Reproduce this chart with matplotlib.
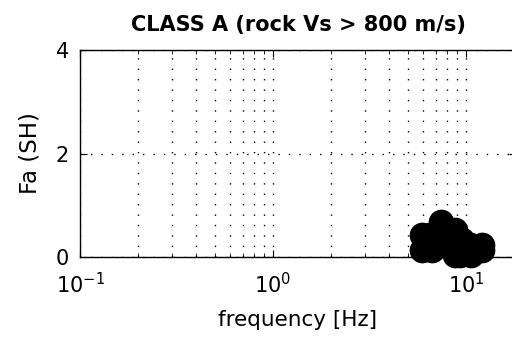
import matplotlib.pyplot as plt
import numpy as np

# Fa(SH) amplification at rock sites, class A
freq = [5.92, 5.92, 6.5, 6.67, 6.9, 7.41, 7.78, 8.26, 8.77, 8.77, 9.31, 9.53,
        10.5, 10.7, 12.1, 12.1]
fa = [0.425, 0.135, 0.425, 0.135, 0.29, 0.676, 0.33, 0.23, 0.52, 0.04, 0.04, 0.33,
      0.23, 0.04, 0.23, 0.135]

x_ticks = [0.1, 1, 10]
y_ticks = [0, 2, 4]

plt.rcParams['font.family'] = ['DejaVu Sans']

fig = plt.figure(figsize=(5.12, 3.41), dpi=100)
ax = fig.add_axes([80 / 512, 1 - 257 / 341, 436 / 512, 207 / 341])

ax.semilogx(freq, fa, 'o', color='black', markersize=17, markeredgewidth=1.5,
            zorder=3, clip_on=False)

ax.set_xlim(0.1, 18.2)
ax.set_ylim(0, 4)
ax.set_xticks(x_ticks)
ax.set_yticks(y_ticks)
ax.tick_params(which='both', direction='in', labelsize=15, top=True, right=True)
ax.tick_params(which='major', length=5)
ax.tick_params(which='minor', length=3)
ax.tick_params(axis='x', which='major', pad=11)
ax.tick_params(axis='y', which='major', pad=8)
dots = (0, (1, 6.5))
ax.grid(True, which='both', axis='x', linestyle=dots, color='black', linewidth=1)
ax.grid(True, which='major', axis='y', linestyle=dots, color='black', linewidth=1)
for s in ax.spines.values():
    s.set_linewidth(1)

ax.set_title('CLASS A (rock Vs > 800 m/s)', fontsize=15, fontweight='bold', pad=14)
ax.set_xlabel('frequency [Hz]', fontsize=15.5, labelpad=9)
ax.set_ylabel('Fa (SH)', fontsize=16.5, labelpad=10)

fig.savefig('out.png', dpi=100)
